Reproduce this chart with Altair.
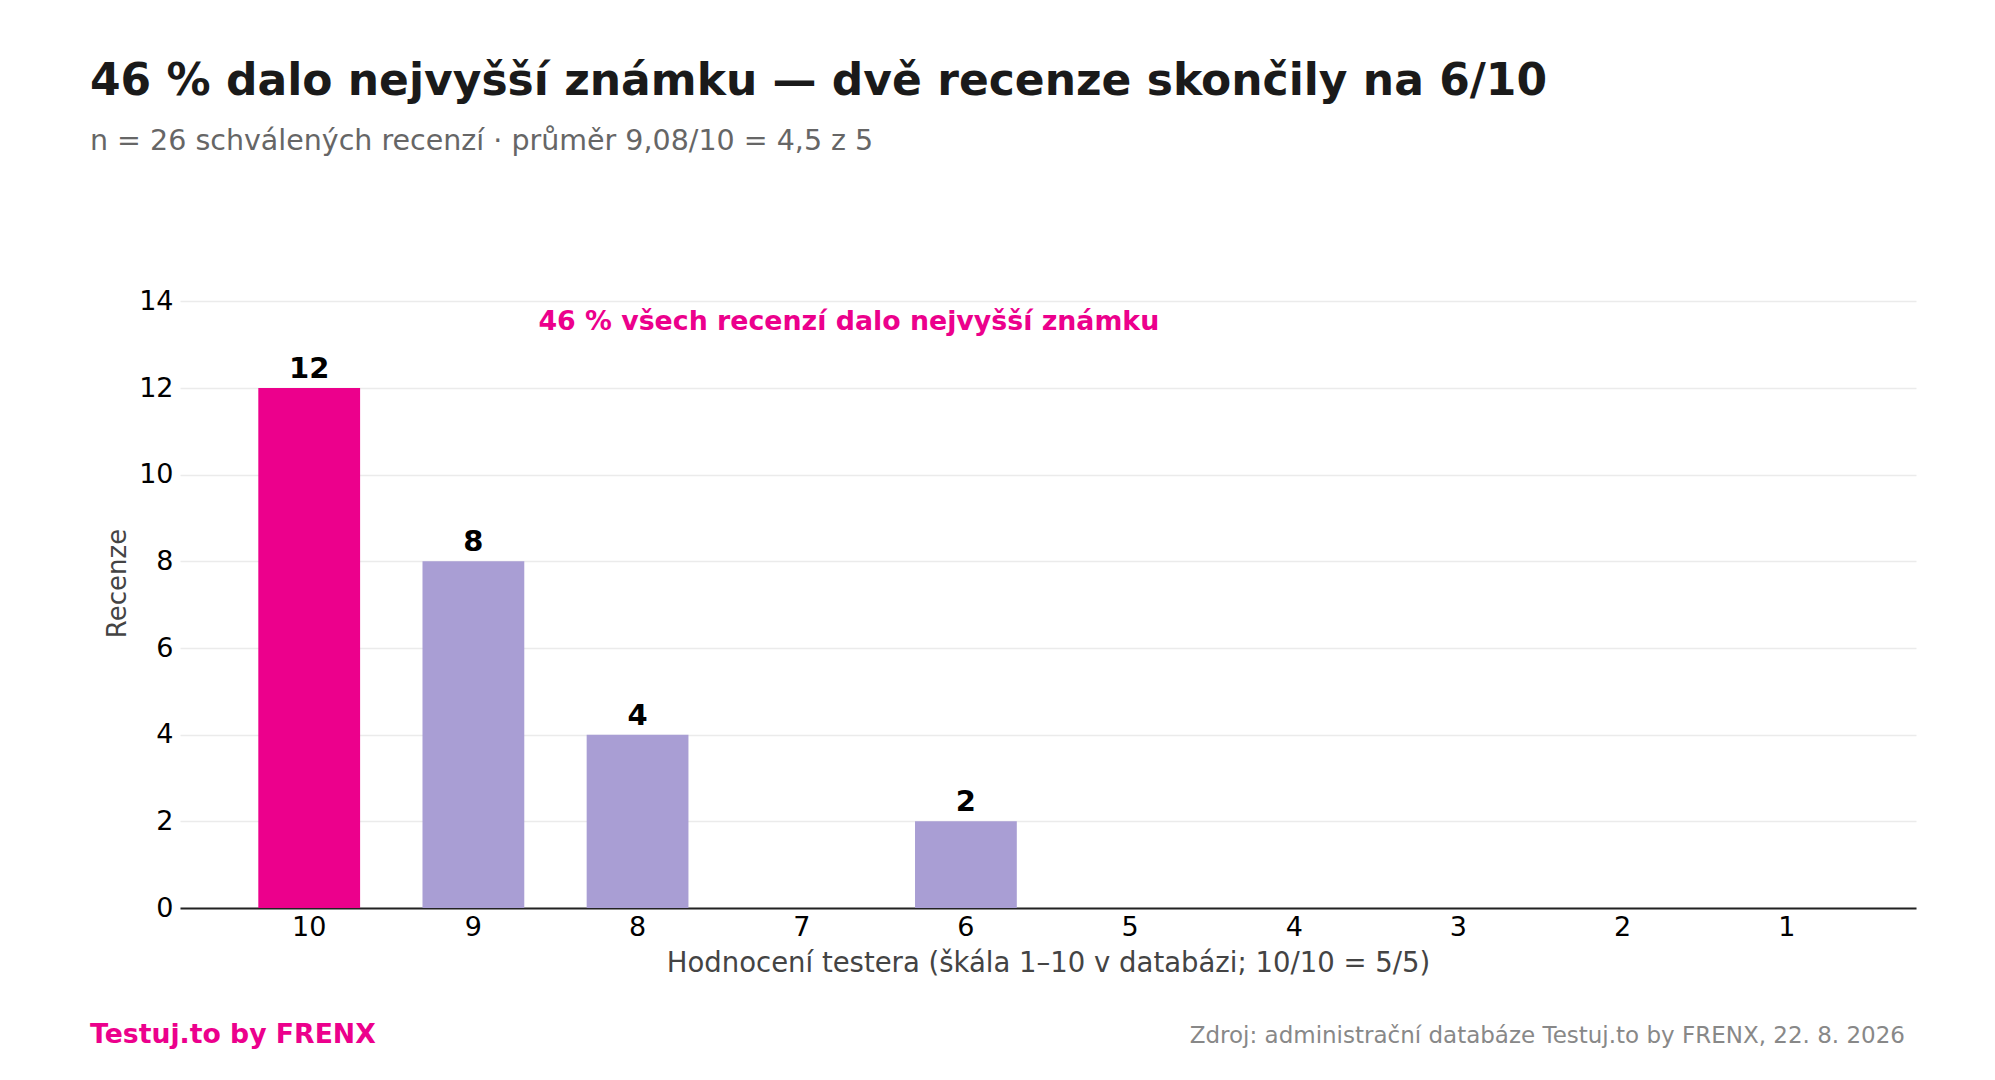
import pandas as pd
import altair as alt

# hodnocení testerů (10 = nejlepší), počet schválených recenzí
scores = ["10", "9", "8", "7", "6", "5", "4", "3", "2", "1"]
counts = [12, 8, 4, 0, 2, 0, 0, 0, 0, 0]
y_ticks = [0, 2, 4, 6, 8, 10, 12, 14]

title_text = "46 % dalo nejvyšší známku — dvě recenze skončily na 6/10"
subtitle_text = "n = 26 schválených recenzí · průměr 9,08/10 = 4,5 z 5"
note_text = "46 % všech recenzí dalo nejvyšší známku"
footer_left = "Testuj.to by FRENX"
footer_right = "Zdroj: administrační databáze Testuj.to by FRENX, 22. 8. 2026"

PINK = "#EC008C"
LAVENDER = "#A99ED4"
FONT = "DejaVu Sans"

W, H = 1736, 650

df = pd.DataFrame({"score": scores, "count": counts})
df["top"] = df["score"] == scores[0]

x_enc = alt.X(
    "score:N",
    sort=scores,
    title="Hodnocení testera (škála 1–10 v databázi; 10/10 = 5/5)",
    scale=alt.Scale(paddingInner=0.38, paddingOuter=0.477),
    axis=alt.Axis(
        labelAngle=0, ticks=False, domainColor="#222222", domainWidth=2,
        labelFontSize=27, labelColor="#000000", labelPadding=6,
        titleFontSize=27.5, titleColor="#444444", titleFontWeight="normal", titlePadding=9,
        grid=False,
    ),
)
y_enc = alt.Y(
    "count:Q",
    title="Recenze",
    scale=alt.Scale(domain=[0, 15], nice=False),
    axis=alt.Axis(
        values=y_ticks, domain=False, ticks=False, gridColor="#EBEBEB", gridWidth=1.5,
        labelFontSize=27, labelColor="#000000", labelPadding=7,
        titleFontSize=26, titleColor="#444444", titleFontWeight="normal", titlePadding=8,
    ),
)

bars = alt.Chart(df).mark_bar().encode(
    x=x_enc,
    y=y_enc,
    color=alt.condition("datum.top", alt.value(PINK), alt.value(LAVENDER)),
)

labels = (
    alt.Chart(df)
    .transform_filter("datum.count > 0")
    .mark_text(font=FONT, fontSize=29, fontWeight="bold", color="#000000", baseline="alphabetic", dy=-10)
    .encode(x=alt.X("score:N", sort=scores), y="count:Q", text="count:Q")
)

note = (
    alt.Chart(pd.DataFrame({"t": [note_text]}))
    .mark_text(font=FONT, fontSize=26.8, fontWeight="bold", color=PINK, align="left", baseline="alphabetic", dx=65)
    .encode(x=alt.datum("9"), y=alt.datum(13.33), text="t:N")
)

foot_l = (
    alt.Chart(pd.DataFrame({"t": [footer_left]}))
    .mark_text(font=FONT, fontSize=26.7, fontWeight="bold", color=PINK, align="left", baseline="alphabetic")
    .encode(x=alt.value(-90), y=alt.value(785), text="t:N")
)
foot_r = (
    alt.Chart(pd.DataFrame({"t": [footer_right]}))
    .mark_text(font=FONT, fontSize=23, color="#888888", align="right", baseline="alphabetic")
    .encode(x=alt.value(1725), y=alt.value(785), text="t:N")
)

chart = (
    alt.layer(bars, labels, note, foot_l, foot_r)
    .properties(
        width=W,
        height=H,
        autosize=alt.AutoSizeParams(type="none"),
        padding={"left": 172, "top": 250, "right": 60, "bottom": 165},
        title=alt.TitleParams(
            text=title_text,
            subtitle=subtitle_text,
            anchor="start",
            frame="group",
            dx=-90,
            offset=103,
            font=FONT,
            fontSize=44,
            fontWeight="bold",
            color="#1A1A1A",
            subtitleFont=FONT,
            subtitleFontSize=28.5,
            subtitleColor="#666666",
            subtitlePadding=23,
        ),
    )
    .configure_view(stroke=None)
    .configure_axis(labelFont=FONT, titleFont=FONT)
)

chart.save("out.html", embed_options={"renderer": "svg", "actions": False})
